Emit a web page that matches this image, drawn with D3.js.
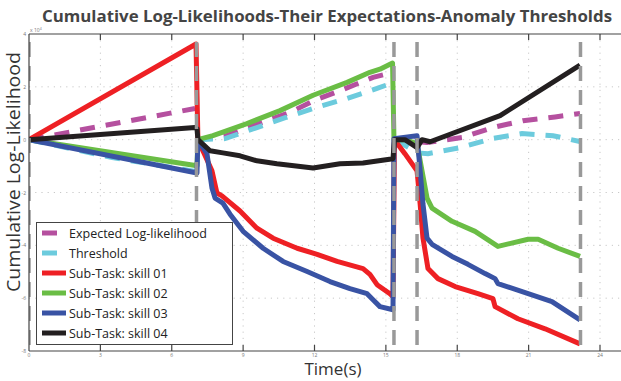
<!DOCTYPE html>
<html>
<head>
<meta charset="utf-8">
<script src="https://cdn.jsdelivr.net/npm/d3@7/dist/d3.min.js"></script>
<style>
  body { margin: 0; background: #fff; }
  svg { display: block; font-family: "Open Sans", "DejaVu Sans", sans-serif; }
</style>
</head>
<body>
<div id="chart"></div>
<script>
// values are in units of 1e4, time in seconds
var xTicks = [0, 3, 6, 9, 12, 15, 18, 21, 24];
var yTicks = [4, 2, 0, -2, -4, -6, -8];
var markers = [0, 7.04, 15.34, 16.31, 23.18];

var expected = [
  [[0, 0], [6.98, 1.18]],
  [[7.1, 0], [8.2, 0.12], [9.42, 0.53], [10.97, 1.03], [12.02, 1.5], [13.2, 1.9], [14.46, 2.36], [15.2, 2.52]],
  [[15.4, 0], [16.73, -0.11], [18.2, 0.08], [19.5, 0.46], [20.77, 0.72], [22.11, 0.86], [23.16, 0.99]]
];
var threshold = [
  [[0, 0], [3.5, -0.68], [7.0, -1.2]],
  [[7.1, 0], [8.24, 0.04], [9.58, 0.46], [10.8, 0.84], [12.06, 1.22], [13.37, 1.56], [14.63, 1.94], [15.0, 2.06]],
  [[15.4, 0], [16.35, -0.5], [16.77, -0.53], [18.12, -0.3], [19.46, 0.04], [20.72, 0.23], [22.03, 0.15], [23.2, -0.08]]
];
var skill01 = [[0, 0], [7.02, 3.62], [7.1, 0], [7.69, -1.18], [7.9, -2.02], [8.11, -2.13], [8.87, -2.7],
  [9.58, -3.35], [10.26, -3.73], [11.27, -4.11], [12.11, -4.34], [12.95, -4.61], [14.04, -4.88],
  [14.33, -5.1], [14.63, -5.49], [15.17, -5.83], [15.3, -5.94], [15.36, 0], [15.8, -0.53], [16.31, -1.18],
  [16.44, -2.44], [16.56, -3.73], [16.77, -4.88], [17.19, -5.26], [17.91, -5.56], [18.87, -5.83],
  [19.5, -6.02], [19.59, -6.32], [20.55, -6.78], [21.69, -7.16], [23.16, -7.73]];
var skill02 = [[0, 0], [7.06, -0.99], [7.1, 0], [7.73, 0.15], [9.16, 0.61], [10.55, 1.1], [11.94, 1.68],
  [13.37, 2.17], [14.33, 2.55], [14.75, 2.67], [15.28, 2.9], [15.34, 0], [15.8, 0], [16.31, -0.15],
  [16.52, -1.18], [16.73, -2.21], [16.94, -2.59], [17.78, -3.09], [18.75, -3.47], [19.71, -4.04],
  [20.98, -3.77], [21.4, -3.77], [22.24, -4.11], [23.16, -4.42]];
var skill03 = [[0, 0], [7.06, -1.26], [7.1, 0], [7.48, -0.53], [7.69, -1.83], [7.82, -2.21], [8.15, -2.4],
  [8.45, -2.82], [9.0, -3.47], [9.84, -4.11], [10.68, -4.61], [11.69, -4.99], [12.65, -5.37],
  [13.49, -5.64], [14.21, -5.83], [14.46, -6.06], [14.75, -6.32], [15.3, -6.44], [15.34, 0.04],
  [16.31, 0.15], [16.44, -1.18], [16.56, -2.44], [16.73, -3.73], [16.94, -3.96], [17.78, -4.42],
  [18.45, -4.72], [19.17, -5.07], [19.59, -5.26], [19.71, -5.45], [20.98, -5.83], [21.98, -6.13], [23.16, -6.82]];
var skill04 = [[0, 0], [6.98, 0.46], [7.06, 0.42], [7.1, 0], [7.61, -0.42], [8.15, -0.5], [8.87, -0.61],
  [9.58, -0.8], [10.42, -0.91], [11.94, -1.07], [13.07, -0.91], [14.04, -0.88], [15.3, -0.72],
  [15.36, 0], [15.8, 0], [16.31, -0.3], [16.52, 0], [16.86, -0.08], [19.8, 0.91], [23.16, 2.82]];

var legendNames = ["Expected Log-likelihood", "Threshold", "Sub-Task: skill 01",
  "Sub-Task: skill 02", "Sub-Task: skill 03", "Sub-Task: skill 04"];
var colors = ["#b5509f", "#6ccbdd", "#ee2024", "#6abd45", "#3953a4", "#231f20"];

var W = 621, H = 381;
var svg = d3.select("#chart").append("svg").attr("width", W).attr("height", H);

var x = d3.scaleLinear().domain([0, 24]).range([29, 600]);
var y = d3.scaleLinear().domain([-8, 4]).range([351, 34]);
var line = d3.line().x(function (d) { return x(d[0]); }).y(function (d) { return y(d[1]); });

svg.append("clipPath").attr("id", "clip").append("rect")
  .attr("x", x(0)).attr("y", y(4)).attr("width", W - x(0)).attr("height", y(-8) - y(4));

// dotted grid
var grid = svg.append("g").attr("stroke", "#c8c8c8").attr("stroke-width", 1).attr("stroke-dasharray", "1.2,5");
grid.selectAll(".vg").data(xTicks.slice(1)).enter().append("line")
  .attr("x1", function (d) { return x(d); }).attr("x2", function (d) { return x(d); })
  .attr("y1", y(4)).attr("y2", y(-8));
grid.selectAll(".hg").data(yTicks.slice(1, -1)).enter().append("line")
  .attr("x1", x(0)).attr("x2", W).attr("y1", function (d) { return y(d); }).attr("y2", function (d) { return y(d); });

var plot = svg.append("g").attr("clip-path", "url(#clip)");

function dashed(segs, color) {
  plot.selectAll(null).data(segs).enter().append("path")
    .attr("d", line).attr("fill", "none").attr("stroke", color)
    .attr("stroke-width", 5).attr("stroke-dasharray", "15,11");
}
dashed(expected, colors[0]);
dashed(threshold, colors[1]);

[skill01, skill02, skill03, skill04].forEach(function (s, i) {
  plot.append("path").datum(s).attr("d", line).attr("fill", "none")
    .attr("stroke", colors[i + 2]).attr("stroke-width", 5).attr("stroke-linejoin", "round");
});

// grey event markers
plot.selectAll(".mk").data(markers).enter().append("line")
  .attr("x1", function (d) { return x(d); }).attr("x2", function (d) { return x(d); })
  .attr("y1", y(4) + 8).attr("y2", y(-8)).attr("stroke", "#999").attr("stroke-width", 3.5)
  .attr("stroke-dasharray", "15,9");

// axes frame
var ax = svg.append("g").attr("stroke", "#444").attr("stroke-width", 1.2);
ax.append("line").attr("x1", x(0)).attr("x2", W).attr("y1", y(4)).attr("y2", y(4));
ax.append("line").attr("x1", x(0)).attr("x2", W).attr("y1", y(-8)).attr("y2", y(-8));
ax.append("line").attr("x1", x(0)).attr("x2", x(0)).attr("y1", y(4)).attr("y2", y(-8));
ax.selectAll(".tt").data(xTicks.slice(1)).enter().append("line")
  .attr("x1", function (d) { return x(d); }).attr("x2", function (d) { return x(d); })
  .attr("y1", y(4)).attr("y2", y(4) + 6);
ax.selectAll(".bt").data(xTicks.slice(1)).enter().append("line")
  .attr("x1", function (d) { return x(d); }).attr("x2", function (d) { return x(d); })
  .attr("y1", y(-8)).attr("y2", y(-8) - 6);

var tl = svg.append("g").attr("fill", "#777").attr("font-size", 5);
tl.selectAll(".xl").data(xTicks).enter().append("text")
  .attr("x", function (d) { return x(d); }).attr("y", y(-8) + 6).attr("text-anchor", "middle")
  .text(function (d) { return d; });
tl.selectAll(".yl").data(yTicks).enter().append("text")
  .attr("x", x(0) - 3).attr("y", function (d) { return y(d) + 2; }).attr("text-anchor", "end")
  .text(function (d) { return d; });
var ex = tl.append("text").attr("x", x(0) + 1).attr("y", y(4) - 2);
ex.append("tspan").text("x 10");
ex.append("tspan").attr("font-size", 3.5).attr("dy", -2).text("4");

// titles
svg.append("text").attr("x", 327).attr("y", 22).attr("text-anchor", "middle")
  .attr("font-size", 15.5).attr("font-weight", "bold").attr("fill", "#444")
  .attr("textLength", 570).attr("lengthAdjust", "spacingAndGlyphs")
  .text("Cumulative Log-Likelihoods-Their Expectations-Anomaly Thresholds");
svg.append("text").attr("transform", "translate(20,172) rotate(-90)").attr("text-anchor", "middle")
  .attr("font-size", 18).attr("fill", "#333").attr("textLength", 240).attr("lengthAdjust", "spacingAndGlyphs")
  .text("Cumulative Log-Likelihood");
svg.append("text").attr("x", 333).attr("y", 375).attr("text-anchor", "middle")
  .attr("font-size", 17).attr("fill", "#333").text("Time(s)");

// legend
var lg = svg.append("g");
lg.append("rect").attr("x", 36.5).attr("y", 222.5).attr("width", 196).attr("height", 122)
  .attr("fill", "#fff").attr("stroke", "#444").attr("stroke-width", 1);
var rows = lg.selectAll(".row").data(legendNames).enter().append("g")
  .attr("transform", function (d, i) { return "translate(0," + (233 + i * 20) + ")"; });
rows.append("line").attr("x1", 42).attr("x2", function (d, i) { return i < 2 ? 57 : 66; })
  .attr("y1", 0).attr("y2", 0).attr("stroke-width", 5)
  .attr("stroke", function (d, i) { return colors[i]; });
rows.append("text").attr("x", 69).attr("y", 4.5).attr("font-size", 12.5).attr("fill", "#222")
  .text(function (d) { return d; });
</script>
</body>
</html>
